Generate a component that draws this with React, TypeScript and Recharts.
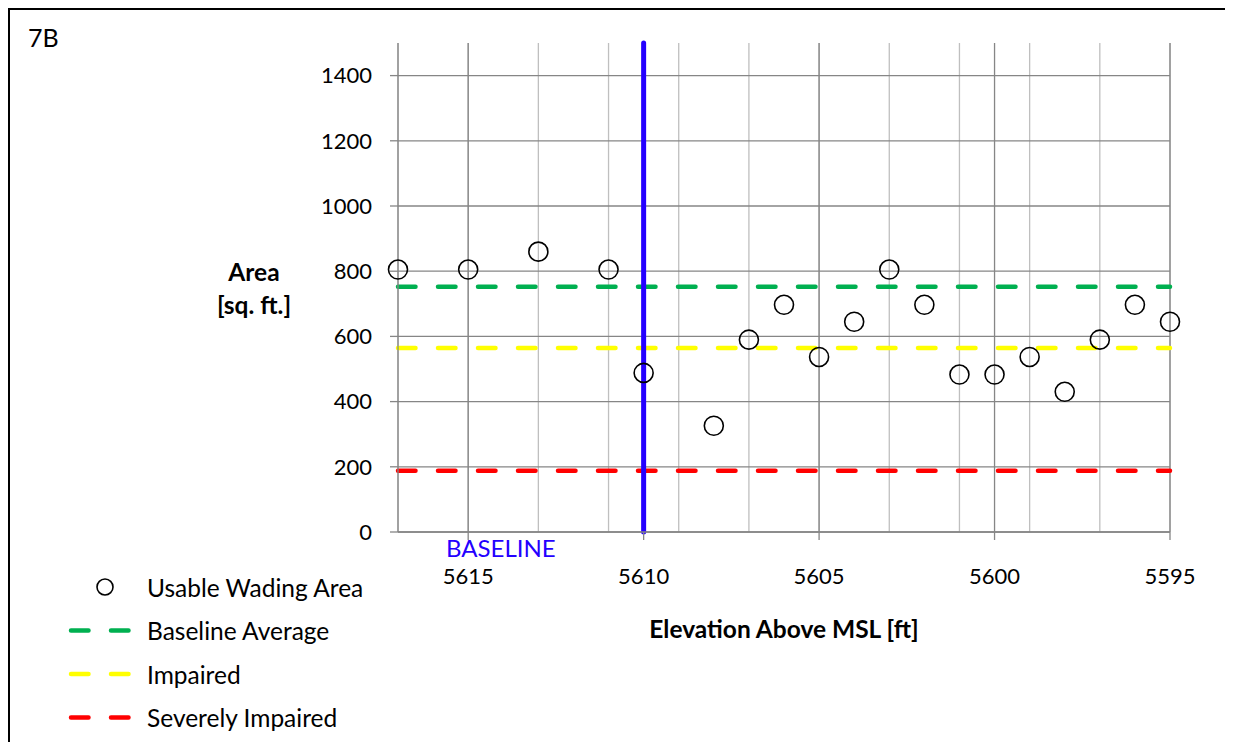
import React from 'react';
import {
  ComposedChart, Scatter, XAxis, YAxis, CartesianGrid, ReferenceLine, Legend,
} from 'recharts';

// ---- data ----
const elevations = [5617, 5615, 5613, 5611, 5610, 5608, 5607, 5606, 5605, 5604, 5603, 5602, 5601, 5600, 5599, 5598, 5597, 5596, 5595];
const wadingArea = [805, 805, 860, 805, 488, 326, 590, 697, 537, 645, 805, 697, 483, 483, 537, 430, 590, 697, 645];

const baselineAverage = 752.6;
const impaired = 564.5;
const severelyImpaired = 188;
const baselineElevation = 5610;

const xDomain = [5595, 5617];
const xMajorTicks = [5615, 5610, 5605, 5600, 5595];
const xMinorTicks = [5617, 5616, 5615, 5614, 5613, 5612, 5611, 5610, 5609, 5608, 5607, 5606, 5605, 5604, 5603, 5602, 5601, 5600, 5599, 5598, 5597, 5596, 5595];
const yTicks = [0, 200, 400, 600, 800, 1000, 1200, 1400];
const yDomain = [0, 1500];

const legendItems = [
  { name: 'Usable Wading Area', type: 'circle', color: '#000000' },
  { name: 'Baseline Average', type: 'dash', color: '#00b050' },
  { name: 'Impaired', type: 'dash', color: '#ffff00' },
  { name: 'Severely Impaired', type: 'dash', color: '#ff0000' },
];

const points = elevations.map((e, i) => ({ x: e, y: wadingArea[i] }));

const FONT = 'Lato, "Open Sans", sans-serif';
const MAJOR = '#868686';
const MINOR = '#bfbfbf';
const DASH = '17.5 22.5';
const TEXT_SIZE = 24.5;

const Circle = (props: any) => {
  const { cx, cy } = props;
  if (cx == null || cy == null) return null;
  return <circle cx={cx} cy={cy} r={9.5} fill="none" stroke="#000" strokeWidth={1.6} />;
};

const renderLegend = () => (
  <svg width={340} height={170} style={{ fontFamily: FONT, display: 'block' }}>
    {legendItems.map((it, i) => {
      const cy = 17 + i * 43.5;
      return (
        <g key={it.name}>
          {it.type === 'circle' ? (
            <circle cx={55} cy={cy} r={8} fill="none" stroke={it.color} strokeWidth={1.6} />
          ) : (
            <line x1={21} x2={81} y1={cy} y2={cy} stroke={it.color} strokeWidth={4.5}
              strokeDasharray={DASH} strokeLinecap="round" />
          )}
          <text x={97} y={cy} dominantBaseline="central" fontSize={TEXT_SIZE} fill="#000">{it.name}</text>
        </g>
      );
    })}
  </svg>
);

export default function App() {
  return (
    <div style={{
      position: 'relative', width: 1225, height: 734, boxSizing: 'border-box',
      borderTop: '2px solid #000', borderLeft: '2px solid #000', background: '#fff', fontFamily: FONT,
    }}>
      <style>{'html,body{overflow:hidden}'}</style>
      <div style={{ position: 'absolute', left: 18, top: 14, fontSize: 25, lineHeight: '26px', color: '#000' }}>7B</div>
      <ComposedChart width={1223} height={732} data={points}
        margin={{ top: 33, right: 63, left: 0, bottom: 100 }} style={{ fontFamily: FONT }}>
        <XAxis xAxisId="minor" dataKey="x" type="number" domain={xDomain} ticks={xMinorTicks}
          reversed hide />
        <CartesianGrid xAxisId="minor" horizontal={false} stroke={MINOR} strokeWidth={1.3} />
        <CartesianGrid stroke={MAJOR} strokeWidth={1.3} horizontalValues={yTicks} verticalValues={xMajorTicks} />
        <XAxis dataKey="x" type="number" domain={xDomain} ticks={xMajorTicks} reversed
          height={110} tickSize={8} tickMargin={28} stroke={MAJOR} strokeWidth={1.3}
          tick={{ fill: '#000', fontSize: 22, fontFamily: FONT }}
          label={{
            content: (p: any) => {
              const vb = p.viewBox;
              return (
                <text x={vb.x + vb.width / 2} y={vb.y + 96} textAnchor="middle" dominantBaseline="central"
                  fontSize={TEXT_SIZE} fontWeight="bold" fill="#000" fontFamily={FONT}>Elevation Above MSL [ft]</text>
              );
            },
          }} />
        <YAxis dataKey="y" type="number" domain={yDomain} ticks={yTicks} width={388}
          tickSize={8} tickMargin={18} stroke={MAJOR} strokeWidth={1.3}
          tick={{ fill: '#000', fontSize: 22, fontFamily: FONT }}
          label={{
            content: (p: any) => {
              const vb = p.viewBox;
              const cx = vb.x + 244;
              const cy = vb.y + vb.height / 2;
              return (
                <text textAnchor="middle" fontSize={TEXT_SIZE} fontWeight="bold" fill="#000" fontFamily={FONT}>
                  <tspan x={cx} y={cy - 16} dominantBaseline="central">Area</tspan>
                  <tspan x={cx} y={cy + 17} dominantBaseline="central">[sq. ft.]</tspan>
                </text>
              );
            },
          }} />
        <ReferenceLine y={baselineAverage} stroke="#00b050" strokeWidth={4.5} strokeDasharray={DASH} strokeLinecap="round" />
        <ReferenceLine y={impaired} stroke="#ffff00" strokeWidth={4.5} strokeDasharray={DASH} strokeLinecap="round" />
        <ReferenceLine y={severelyImpaired} stroke="#ff0000" strokeWidth={4.5} strokeDasharray={DASH} strokeLinecap="round" />
        <ReferenceLine x={baselineElevation} stroke="#2400ff" strokeWidth={5} strokeLinecap="round"
          label={(p: any) => {
            const vb = p.viewBox;
            return (
              <text x={vb.x - 88} y={vb.y + vb.height + 15} textAnchor="end" dominantBaseline="central"
                fontSize={24} fill="#2400ff" fontFamily={FONT}>BASELINE</text>
            );
          }} />
        <Scatter name="Usable Wading Area" dataKey="y" fill="none" shape={Circle} isAnimationActive={false} />
        <Legend content={renderLegend} layout="vertical" align="center" verticalAlign="middle"
          wrapperStyle={{ position: 'absolute', left: 40, top: 560, width: 340, height: 170 }} />
      </ComposedChart>
    </div>
  );
}
